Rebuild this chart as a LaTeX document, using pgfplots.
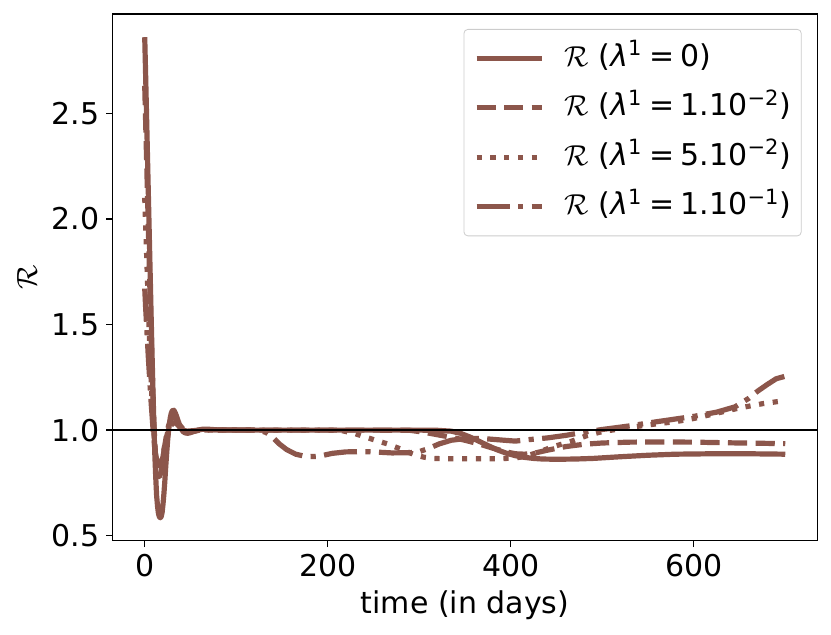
\documentclass[border=0pt]{standalone}
\usepackage{fontspec}
\setmainfont{DejaVu Sans}
\usepackage{pgfplots}
\pgfplotsset{compat=1.18}
\definecolor{tabbrown}{HTML}{8C564B}
\newcommand{\lentry}[1]{$\mathcal{R}$ ({\itshape λ}\textsuperscript{1}\hspace{0.22em}=\hspace{0.22em}#1)}
\begin{document}
\begin{tikzpicture}
\useasboundingbox (-56.35pt,-47.15pt) rectangle (359.15pt,270.35pt);
\begin{axis}[
  at={(0pt,0pt)}, anchor=south west,
  scale only axis, width=352.3pt, height=263.35pt,
  xmin=-35, xmax=735, ymin=0.4765, ymax=2.97,
  xtick={0,200,400,600}, ytick={0.5,1.0,1.5,2.0,2.5},
  tick align=outside, xtick pos=bottom, ytick pos=left,
  major tick length=3.2pt,
  tick style={black, line width=0.7pt},
  axis line style={line width=0.7pt},
  /pgf/number format/assume math mode=true,
  ticklabel style={font=\fontsize{15}{18}\selectfont},
  yticklabel style={/pgf/number format/.cd, fixed, fixed zerofill, precision=1},
  label style={font=\fontsize{15}{18}\selectfont},
  xlabel={time (in days)},
  ylabel={$\mathcal{R}$},
  xlabel style={at={(axis description cs:0.5,-0.122)}, anchor=center},
  ylabel style={at={(axis description cs:-0.1216,0.5)}, anchor=center},
  legend style={at={(1,1)}, anchor=north east, xshift=-7.8pt, yshift=-7.5pt,
    draw=black!20, rounded corners=2pt, fill=white, fill opacity=0.8, text opacity=1,
    font=\fontsize{15}{18}\selectfont, inner xsep=5pt, inner ysep=6.5pt, row sep=8.75pt,
    nodes={inner sep=0pt, text height=12pt, text depth=4pt},
    /tikz/every odd column/.style={column sep=10.3pt}},
  legend cell align=left,
  legend image code/.code={\draw[#1] (0pt,0pt) -- (32.5pt,0pt);},
  every axis plot/.append style={line width=2.6pt, color=tabbrown, line join=round, mark=none},
]
\addplot[solid] coordinates {(0,2.86)(1,2.68)(2,2.49)(3,2.30)(4,2.11)(5,1.92)(6,1.73)(7,1.54)(8,1.36)(9,1.19)(10,1.03)(11,0.89)(12,0.78)(13,0.69)(14,0.64)(15,0.605)(16,0.59)(17,0.585)(18,0.59)(19,0.61)(20,0.65)(21,0.70)(22,0.76)(23,0.83)(24,0.89)(25,0.95)(26,0.995)(27,1.03)(28,1.06)(29,1.08)(30,1.09)(31,1.095)(32,1.093)(33,1.085)(34,1.075)(36,1.05)(38,1.025)(40,1.005)(42,0.993)(44,0.987)(47,0.985)(50,0.988)(54,0.995)(58,1.0)(63,1.004)(70,1.004)(80,1.001)(100,1.0)(150,1.0)(200,1.0)(250,1.0)(300,1.0)(320,0.999)(335,0.995)(345,0.985)(355,0.968)(365,0.948)(375,0.927)(385,0.907)(395,0.891)(405,0.879)(415,0.871)(425,0.866)(435,0.863)(450,0.862)(470,0.863)(490,0.866)(520,0.874)(550,0.881)(580,0.886)(620,0.888)(660,0.888)(700,0.886)};
\addlegendentry{\lentry{0}}
\addplot[dash pattern=on 9.6pt off 4.2pt] coordinates {(0,2.63)(1,2.46)(2,2.29)(3,2.12)(4,1.95)(5,1.78)(6,1.61)(7,1.45)(8,1.30)(9,1.16)(10,1.04)(11,0.94)(12,0.87)(13,0.82)(14,0.79)(15,0.78)(16,0.78)(17,0.79)(18,0.81)(20,0.87)(22,0.93)(24,0.98)(26,1.02)(28,1.045)(30,1.06)(32,1.065)(34,1.06)(36,1.045)(39,1.02)(42,1.0)(46,0.99)(50,0.99)(55,0.995)(60,1.0)(70,1.002)(90,1.0)(150,1.0)(250,1.0)(290,0.999)(305,0.99)(320,0.978)(335,0.966)(350,0.952)(365,0.935)(380,0.915)(395,0.897)(405,0.888)(415,0.886)(425,0.89)(440,0.905)(460,0.922)(480,0.933)(500,0.939)(530,0.943)(560,0.944)(600,0.943)(650,0.939)(700,0.936)};
\addlegendentry{\lentry{1.10\textsuperscript{−2}}}
\addplot[dash pattern=on 2.6pt off 4.3pt] coordinates {(0,2.10)(1,1.97)(2,1.84)(3,1.71)(4,1.58)(5,1.46)(6,1.35)(7,1.24)(8,1.14)(9,1.06)(10,0.99)(11,0.93)(12,0.88)(13,0.85)(14,0.83)(15,0.82)(16,0.82)(17,0.83)(18,0.845)(20,0.885)(22,0.93)(24,0.97)(26,1.005)(28,1.03)(30,1.045)(32,1.05)(34,1.048)(36,1.04)(39,1.02)(42,1.005)(46,0.995)(52,0.995)(60,1.0)(80,1.001)(120,1.0)(200,1.0)(215,0.998)(230,0.983)(250,0.955)(265,0.935)(280,0.91)(295,0.883)(305,0.872)(315,0.866)(330,0.864)(360,0.864)(390,0.865)(405,0.868)(415,0.875)(431,0.896)(445,0.92)(465,0.945)(484,0.975)(500,0.993)(530,1.013)(560,1.03)(580,1.04)(600,1.055)(625,1.08)(650,1.105)(675,1.125)(700,1.14)};
\addlegendentry{\lentry{5.10\textsuperscript{−2}}}
\addplot[dash pattern=on 16.6pt off 4.2pt on 2.6pt off 4.2pt] coordinates {(0,1.67)(1,1.58)(2,1.50)(3,1.42)(4,1.34)(5,1.27)(6,1.20)(7,1.13)(8,1.07)(9,1.01)(10,0.96)(11,0.92)(12,0.885)(13,0.86)(14,0.845)(15,0.835)(16,0.83)(17,0.835)(18,0.845)(20,0.875)(22,0.915)(24,0.955)(26,0.99)(28,1.015)(30,1.03)(32,1.035)(34,1.033)(36,1.025)(39,1.01)(42,1.0)(46,0.995)(52,0.997)(60,1.0)(80,1.001)(125,1.0)(133,0.988)(140,0.965)(147,0.935)(155,0.908)(165,0.886)(177,0.874)(190,0.876)(205,0.89)(220,0.897)(245,0.898)(270,0.892)(290,0.893)(300,0.898)(310,0.913)(322,0.935)(335,0.952)(350,0.96)(370,0.96)(390,0.953)(405,0.948)(420,0.955)(440,0.963)(460,0.975)(480,0.99)(500,1.003)(530,1.02)(560,1.04)(600,1.065)(625,1.085)(645,1.11)(660,1.15)(670,1.185)(680,1.215)(690,1.243)(700,1.255)};
\addlegendentry{\lentry{1.10\textsuperscript{−1}}}
\addplot[black, line width=0.75pt, forget plot] coordinates {(-35,1) (735,1)};
\end{axis}
\end{tikzpicture}
\end{document}
